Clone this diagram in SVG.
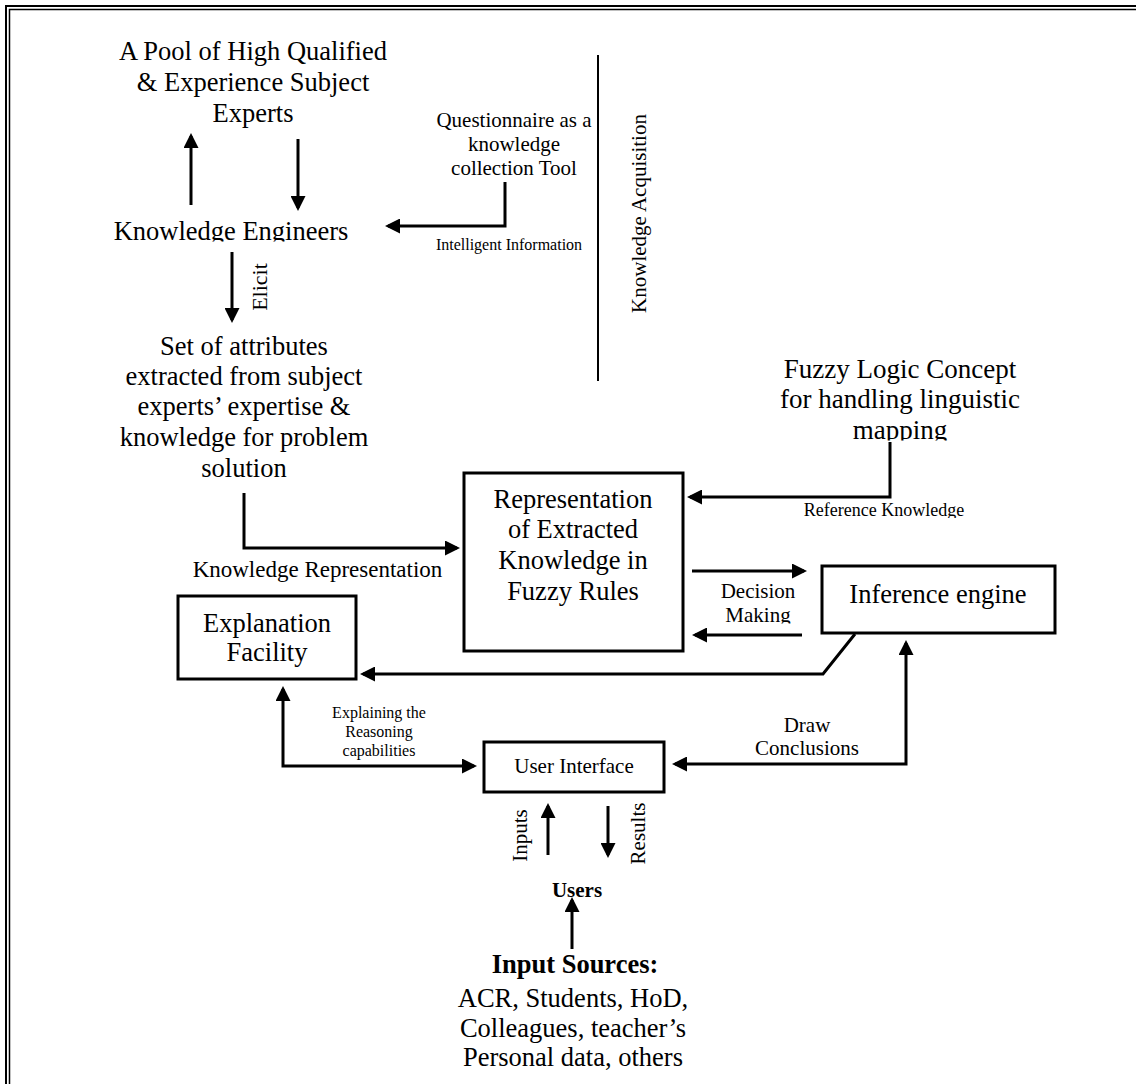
<svg xmlns="http://www.w3.org/2000/svg" width="1136" height="1084" viewBox="0 0 1136 1084">
<style>
text{font-family:"Liberation Serif","Times New Roman",serif;fill:#000;text-anchor:middle}
.big{font-size:26.5px}
.mid{font-size:21px}
.sm{font-size:16px}
.b{font-weight:bold}
.box{fill:#fff;stroke:#000;stroke-width:3}
.ln{fill:none;stroke:#000;stroke-width:3}
.ah{marker-end:url(#arr)}
.ah2{marker-start:url(#arr);marker-end:url(#arr)}
</style>
<defs>
<marker id="arr" markerUnits="userSpaceOnUse" markerWidth="15" markerHeight="15" refX="12" refY="7.5" orient="auto-start-reverse">
<path d="M0,0 L15,7.5 L0,15 z" fill="#000"/>
</marker>
<clipPath id="cEng"><rect x="0" y="200" width="500" height="41.5"/></clipPath>
<clipPath id="cMap"><rect x="700" y="340" width="430" height="100.5"/></clipPath>
<clipPath id="cRef"><rect x="700" y="495" width="430" height="23"/></clipPath>
<clipPath id="cDec"><rect x="690" y="578" width="130" height="45.5"/></clipPath>
</defs>
<rect width="1136" height="1084" fill="#fff"/>
<g id="frame" fill="none" stroke="#000">
<path d="M6,1084 V6 H1136" stroke-width="2"/>
<path d="M9.5,1084 V9.5 H1136" stroke-width="1.5"/>
</g>
<g id="connectors">
<line class="ln ah" x1="191" y1="205" x2="191" y2="136"/>
<line class="ln ah" x1="298" y1="139" x2="298" y2="208"/>
<path class="ln ah" d="M505,182 V226 H388"/>
<line x1="598" y1="55" x2="598" y2="381" stroke="#000" stroke-width="2"/>
<line class="ln ah" x1="232" y1="252" x2="232" y2="320"/>
<path class="ln ah" d="M244,493 V548 H457"/>
<path class="ln ah" d="M890,442 V497 H690"/>
<line class="ln ah" x1="692" y1="571" x2="804" y2="571"/>
<line class="ln ah" x1="802" y1="635" x2="695" y2="635"/>
<path class="ln ah" d="M855,634 L823,674 H363" stroke-width="2.5"/>
<path class="ln ah2" d="M283,689 V766 H474"/>
<path class="ln ah2" d="M906,643 V764 H675"/>
<line class="ln ah" x1="548" y1="855" x2="548" y2="806"/>
<line class="ln ah" x1="608" y1="806" x2="608" y2="855"/>
<line class="ln ah" x1="572" y1="949" x2="572" y2="900"/>
<text class="sm" x="509" y="250">Intelligent Information</text>
<text class="mid" transform="translate(646,213.5) rotate(-90)">Knowledge Acquisition</text>
<text style="font-size:22px" transform="translate(267,287) rotate(-90)">Elicit</text>
<text style="font-size:23px" x="317.5" y="577">Knowledge Representation</text>
<g clip-path="url(#cRef)"><text style="font-size:18px" x="884" y="516">Reference Knowledge</text></g>
<g clip-path="url(#cDec)"><text class="mid" x="758" y="598">Decision</text><text class="mid" x="758" y="622">Making</text></g>
<text class="sm" x="379" y="718">Explaining the</text>
<text class="sm" x="379" y="737">Reasoning</text>
<text class="sm" x="379" y="756">capabilities</text>
<text class="mid" x="807" y="732">Draw</text>
<text class="mid" x="807" y="755">Conclusions</text>
<text class="mid" transform="translate(527,835.5) rotate(-90)">Inputs</text>
<text class="mid" transform="translate(645,833.5) rotate(-90)">Results</text>
</g>
<g id="experts">
<text class="big" x="253" y="60">A Pool of High Qualified</text>
<text class="big" x="253" y="91">&amp; Experience Subject</text>
<text class="big" x="253" y="122">Experts</text>
</g>
<g id="engineers" clip-path="url(#cEng)">
<text class="big" x="231" y="240">Knowledge Engineers</text>
</g>
<g id="questionnaire">
<text class="mid" x="514" y="127">Questionnaire as a</text>
<text class="mid" x="514" y="151">knowledge</text>
<text class="mid" x="514" y="175">collection Tool</text>
</g>
<g id="attributes">
<text class="big" x="244" y="355">Set of attributes</text>
<text class="big" x="244" y="385">extracted from subject</text>
<text class="big" x="244" y="415">experts’ expertise &amp;</text>
<text class="big" x="244" y="446">knowledge for problem</text>
<text class="big" x="244" y="477">solution</text>
</g>
<g id="fuzzy" clip-path="url(#cMap)">
<text style="font-size:27px" x="900" y="378">Fuzzy Logic Concept</text>
<text style="font-size:27px" x="900" y="408">for handling linguistic</text>
<text style="font-size:27px" x="900" y="439">mapping</text>
</g>
<g id="representation">
<rect class="box" x="464" y="473" width="219" height="178"/>
<text class="big" x="573" y="508">Representation</text>
<text class="big" x="573" y="538">of Extracted</text>
<text class="big" x="573" y="569">Knowledge in</text>
<text class="big" x="573" y="600">Fuzzy Rules</text>
</g>
<g id="inference">
<rect class="box" x="822" y="566" width="233" height="67"/>
<text class="big" x="938" y="603">Inference engine</text>
</g>
<g id="explanation">
<rect class="box" x="178" y="596" width="178" height="83"/>
<text class="big" x="267" y="632">Explanation</text>
<text class="big" x="267" y="661">Facility</text>
</g>
<g id="userinterface">
<rect class="box" x="484" y="742" width="180" height="50"/>
<text class="mid" x="574" y="773">User Interface</text>
</g>
<g id="users">
<text class="mid b" x="577" y="897">Users</text>
</g>
<g id="inputsources">
<text class="big b" x="575" y="973">Input Sources:</text>
<text class="big" x="573" y="1007">ACR, Students, HoD,</text>
<text class="big" x="573" y="1037">Colleagues, teacher’s</text>
<text class="big" x="573" y="1066">Personal data, others</text>
</g>
</svg>
